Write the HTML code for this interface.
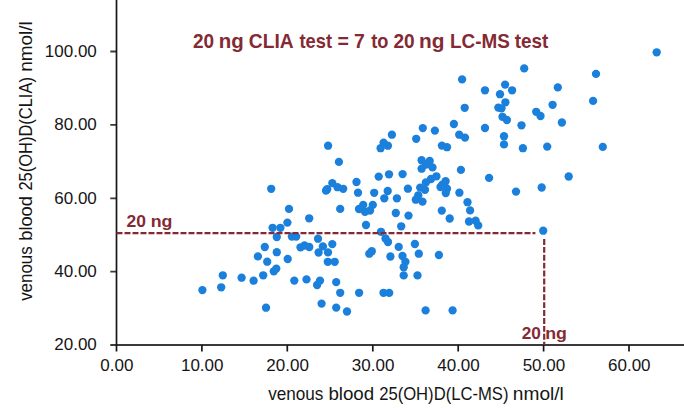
<!DOCTYPE html>
<html><head><meta charset="utf-8"><style>
html,body{margin:0;padding:0;background:#fff;}
body{width:684px;height:408px;overflow:hidden;}
svg{display:block;font-family:"Liberation Sans",sans-serif;}
</style></head><body>
<svg width="684" height="408" viewBox="0 0 684 408">
<rect width="684" height="408" fill="#fff"/>
<g fill="#151515" font-size="17">
<text x="96.8" y="56.8" text-anchor="end">100.00</text>
<text x="96.8" y="130.2" text-anchor="end">80.00</text>
<text x="96.8" y="203.6" text-anchor="end">60.00</text>
<text x="96.8" y="276.9" text-anchor="end">40.00</text>
<text x="96.8" y="350.3" text-anchor="end">20.00</text>
<text x="116.8" y="371.4" text-anchor="middle">0.00</text>
<text x="202.2" y="371.4" text-anchor="middle">10.00</text>
<text x="287.6" y="371.4" text-anchor="middle">20.00</text>
<text x="373.1" y="371.4" text-anchor="middle">30.00</text>
<text x="458.5" y="371.4" text-anchor="middle">40.00</text>
<text x="543.9" y="371.4" text-anchor="middle">50.00</text>
<text x="629.3" y="371.4" text-anchor="middle">60.00</text>
</g>
<g fill="#151515" font-size="17.5">
<text transform="translate(268.14,399.8) scale(0.9796,1)">venous</text>
<text transform="translate(328.39,399.8) scale(1.0699,1)">blood</text>
<text transform="translate(379.16,399.8) scale(0.9505,1)">25(OH)D(LC-MS)</text>
<text transform="translate(512.83,399.8) scale(1.0936,1)">nmol/l</text>
<g transform="translate(31.6,0) rotate(-90)">
<text transform="translate(-300.86,0) scale(0.9670,1)">venous</text>
<text transform="translate(-240.78,0) scale(1.0453,1)">blood</text>
<text transform="translate(-190.53,0) scale(0.9410,1)">25(OH)D(CLIA)</text>
<text transform="translate(-71.86,0) scale(1.0846,1)">nmol/l</text>
</g>
</g>

<g fill="#842a34" font-weight="bold" font-size="19.8">
<text transform="translate(193.04,47.8) scale(0.9598,1)">20</text>
<text transform="translate(218.65,47.8) scale(1.0343,1)">ng</text>
<text transform="translate(248.81,47.8) scale(0.9719,1)">CLIA</text>
<text transform="translate(299.48,47.8) scale(0.9243,1)">test</text>
<text transform="translate(337.39,47.8) scale(0.9870,1)">=</text>
<text transform="translate(354.07,47.8) scale(0.9795,1)">7</text>
<text transform="translate(371.28,47.8) scale(0.9223,1)">to</text>
<text transform="translate(393.44,47.8) scale(0.9647,1)">20</text>
<text transform="translate(419.03,47.8) scale(1.0529,1)">ng</text>
<text transform="translate(450.03,47.8) scale(0.9556,1)">LC-MS</text>
<text transform="translate(514.77,47.8) scale(0.9560,1)">test</text>
</g>
<g fill="#842a34" font-weight="bold" font-size="16.2">
<text transform="translate(126.49,226.7) scale(1.0778,1)">20</text>
<text transform="translate(150.63,226.7) scale(1.0998,1)">ng</text>
<text transform="translate(521.70,338.7) scale(1.0659,1)">20</text>
<text transform="translate(545.23,338.7) scale(1.0998,1)">ng</text>
</g>
<g fill="none">
<path d="M116 345H684M110.3 51.5H117M110.3 124.9H117M110.3 198.3H117M110.3 271.6H117M110.3 345H117" stroke="#3a3a3a" stroke-width="1.8"/>
<path d="M116.5 0V346M116.5 345V351.5M201.9 345V351.5M287.3 345V351.5M372.8 345V351.5M458.2 345V351.5M543.6 345V351.5M629.0 345V351.5" stroke="#161616" stroke-width="1.7"/>
</g>
<g fill="#1b80dc">
<circle cx="656.7" cy="52.3" r="4.15"/>
<circle cx="524.2" cy="68.4" r="4.15"/>
<circle cx="596" cy="73.9" r="4.15"/>
<circle cx="462.1" cy="79.4" r="4.15"/>
<circle cx="557.8" cy="87.4" r="4.15"/>
<circle cx="505.1" cy="84.6" r="4.15"/>
<circle cx="485" cy="90.3" r="4.15"/>
<circle cx="512.1" cy="90.3" r="4.15"/>
<circle cx="500" cy="94.2" r="4.15"/>
<circle cx="593.1" cy="100.9" r="4.15"/>
<circle cx="505.4" cy="102.3" r="4.15"/>
<circle cx="552.6" cy="104.8" r="4.15"/>
<circle cx="498.3" cy="107.6" r="4.15"/>
<circle cx="501.5" cy="108.3" r="4.15"/>
<circle cx="464.7" cy="107.8" r="4.15"/>
<circle cx="536.2" cy="111.8" r="4.15"/>
<circle cx="540.5" cy="116" r="4.15"/>
<circle cx="502.5" cy="116.8" r="4.15"/>
<circle cx="506.9" cy="120" r="4.15"/>
<circle cx="561.9" cy="122.5" r="4.15"/>
<circle cx="453.9" cy="124" r="4.15"/>
<circle cx="521.5" cy="125.3" r="4.15"/>
<circle cx="485" cy="128" r="4.15"/>
<circle cx="422.8" cy="128.1" r="4.15"/>
<circle cx="434.9" cy="130.6" r="4.15"/>
<circle cx="391.9" cy="134.7" r="4.15"/>
<circle cx="459.2" cy="134.7" r="4.15"/>
<circle cx="465" cy="137.6" r="4.15"/>
<circle cx="504" cy="136.2" r="4.15"/>
<circle cx="416.2" cy="138.8" r="4.15"/>
<circle cx="383.6" cy="142.6" r="4.15"/>
<circle cx="387.9" cy="145.7" r="4.15"/>
<circle cx="380.6" cy="148.2" r="4.15"/>
<circle cx="441.9" cy="145.6" r="4.15"/>
<circle cx="447" cy="147.2" r="4.15"/>
<circle cx="504" cy="144.4" r="4.15"/>
<circle cx="522.9" cy="148.2" r="4.15"/>
<circle cx="547.2" cy="146.6" r="4.15"/>
<circle cx="602.8" cy="146.9" r="4.15"/>
<circle cx="328.1" cy="145.7" r="4.15"/>
<circle cx="338.9" cy="161.9" r="4.15"/>
<circle cx="421.6" cy="160.2" r="4.15"/>
<circle cx="426" cy="164.5" r="4.15"/>
<circle cx="429.7" cy="161" r="4.15"/>
<circle cx="421.6" cy="168.7" r="4.15"/>
<circle cx="432.5" cy="167.4" r="4.15"/>
<circle cx="460.9" cy="169.9" r="4.15"/>
<circle cx="568.7" cy="176.5" r="4.15"/>
<circle cx="378.7" cy="176.6" r="4.15"/>
<circle cx="389" cy="174.3" r="4.15"/>
<circle cx="402.6" cy="174.1" r="4.15"/>
<circle cx="436.4" cy="176.3" r="4.15"/>
<circle cx="431" cy="179" r="4.15"/>
<circle cx="425.9" cy="182.4" r="4.15"/>
<circle cx="420.2" cy="187.6" r="4.15"/>
<circle cx="425" cy="189.8" r="4.15"/>
<circle cx="418.3" cy="195.3" r="4.15"/>
<circle cx="415.8" cy="199.7" r="4.15"/>
<circle cx="422.5" cy="201.6" r="4.15"/>
<circle cx="445.6" cy="181.2" r="4.15"/>
<circle cx="442.3" cy="184.6" r="4.15"/>
<circle cx="440.5" cy="187" r="4.15"/>
<circle cx="447" cy="188.7" r="4.15"/>
<circle cx="445.8" cy="193" r="4.15"/>
<circle cx="459.4" cy="192.7" r="4.15"/>
<circle cx="489.1" cy="177.9" r="4.15"/>
<circle cx="541.7" cy="187.5" r="4.15"/>
<circle cx="516" cy="191.6" r="4.15"/>
<circle cx="332.3" cy="183.1" r="4.15"/>
<circle cx="337.5" cy="187.2" r="4.15"/>
<circle cx="343.2" cy="188.8" r="4.15"/>
<circle cx="326" cy="190.6" r="4.15"/>
<circle cx="327.2" cy="189.2" r="4.15"/>
<circle cx="356.5" cy="182" r="4.15"/>
<circle cx="358" cy="192.7" r="4.15"/>
<circle cx="374.2" cy="192.8" r="4.15"/>
<circle cx="407.9" cy="188.7" r="4.15"/>
<circle cx="387.7" cy="191" r="4.15"/>
<circle cx="384.3" cy="198.3" r="4.15"/>
<circle cx="396.9" cy="198.3" r="4.15"/>
<circle cx="271.2" cy="188.8" r="4.15"/>
<circle cx="467.5" cy="202.2" r="4.15"/>
<circle cx="470.1" cy="210.4" r="4.15"/>
<circle cx="469" cy="221.5" r="4.15"/>
<circle cx="475.6" cy="220.7" r="4.15"/>
<circle cx="478.2" cy="225.4" r="4.15"/>
<circle cx="543.2" cy="230.7" r="4.15"/>
<circle cx="363.2" cy="204.9" r="4.15"/>
<circle cx="372.8" cy="204.9" r="4.15"/>
<circle cx="359" cy="209" r="4.15"/>
<circle cx="370" cy="210.5" r="4.15"/>
<circle cx="365" cy="211.8" r="4.15"/>
<circle cx="340.2" cy="208.9" r="4.15"/>
<circle cx="395.8" cy="213" r="4.15"/>
<circle cx="408.5" cy="215.6" r="4.15"/>
<circle cx="366" cy="225" r="4.15"/>
<circle cx="401.2" cy="226.3" r="4.15"/>
<circle cx="441.8" cy="210.6" r="4.15"/>
<circle cx="449.7" cy="218.5" r="4.15"/>
<circle cx="381" cy="231.8" r="4.15"/>
<circle cx="385.5" cy="238.5" r="4.15"/>
<circle cx="388" cy="242" r="4.15"/>
<circle cx="398.7" cy="246.9" r="4.15"/>
<circle cx="414.9" cy="244" r="4.15"/>
<circle cx="371.8" cy="251.2" r="4.15"/>
<circle cx="369.3" cy="253.7" r="4.15"/>
<circle cx="390.4" cy="256.5" r="4.15"/>
<circle cx="402.5" cy="256" r="4.15"/>
<circle cx="405.4" cy="261.8" r="4.15"/>
<circle cx="403.7" cy="267.2" r="4.15"/>
<circle cx="403.7" cy="275.4" r="4.15"/>
<circle cx="417.5" cy="275.4" r="4.15"/>
<circle cx="418.8" cy="253.7" r="4.15"/>
<circle cx="438.9" cy="255" r="4.15"/>
<circle cx="289" cy="208.9" r="4.15"/>
<circle cx="309.2" cy="218.3" r="4.15"/>
<circle cx="287.4" cy="222.6" r="4.15"/>
<circle cx="272.6" cy="227.8" r="4.15"/>
<circle cx="280.4" cy="227.8" r="4.15"/>
<circle cx="276.8" cy="237" r="4.15"/>
<circle cx="291.9" cy="236.6" r="4.15"/>
<circle cx="296.2" cy="236.6" r="4.15"/>
<circle cx="318" cy="238.7" r="4.15"/>
<circle cx="300.5" cy="247.3" r="4.15"/>
<circle cx="304.5" cy="245.5" r="4.15"/>
<circle cx="309.3" cy="247" r="4.15"/>
<circle cx="332.3" cy="244.1" r="4.15"/>
<circle cx="322.9" cy="246.4" r="4.15"/>
<circle cx="318.6" cy="252.5" r="4.15"/>
<circle cx="328" cy="252.4" r="4.15"/>
<circle cx="327.8" cy="261.8" r="4.15"/>
<circle cx="334.7" cy="261.8" r="4.15"/>
<circle cx="276.8" cy="252.2" r="4.15"/>
<circle cx="264.8" cy="247" r="4.15"/>
<circle cx="257.9" cy="256.4" r="4.15"/>
<circle cx="267.2" cy="261.7" r="4.15"/>
<circle cx="287.7" cy="259" r="4.15"/>
<circle cx="273.8" cy="271.3" r="4.15"/>
<circle cx="276.3" cy="268.6" r="4.15"/>
<circle cx="263.2" cy="275.3" r="4.15"/>
<circle cx="222.8" cy="275.3" r="4.15"/>
<circle cx="241.6" cy="277.7" r="4.15"/>
<circle cx="253.6" cy="280.7" r="4.15"/>
<circle cx="221.2" cy="287.3" r="4.15"/>
<circle cx="202.4" cy="290.1" r="4.15"/>
<circle cx="266" cy="307.7" r="4.15"/>
<circle cx="294.3" cy="280.6" r="4.15"/>
<circle cx="306.5" cy="279.4" r="4.15"/>
<circle cx="320" cy="280.6" r="4.15"/>
<circle cx="317.1" cy="285" r="4.15"/>
<circle cx="336.2" cy="282.1" r="4.15"/>
<circle cx="340.2" cy="292.8" r="4.15"/>
<circle cx="359.1" cy="292.8" r="4.15"/>
<circle cx="383.5" cy="292.8" r="4.15"/>
<circle cx="389.2" cy="292.9" r="4.15"/>
<circle cx="321.6" cy="303.6" r="4.15"/>
<circle cx="336.2" cy="307.6" r="4.15"/>
<circle cx="347" cy="311.5" r="4.15"/>
<circle cx="425.6" cy="310.4" r="4.15"/>
<circle cx="452.6" cy="310.4" r="4.15"/>
</g>
<g stroke="#842a34" stroke-width="2.2" fill="none">
<path d="M116.5 233.2H535.4" stroke-dasharray="6 2"/>
<path d="M544.2 239V345" stroke-dasharray="5.9 2"/>
</g>
</svg>
</body></html>
